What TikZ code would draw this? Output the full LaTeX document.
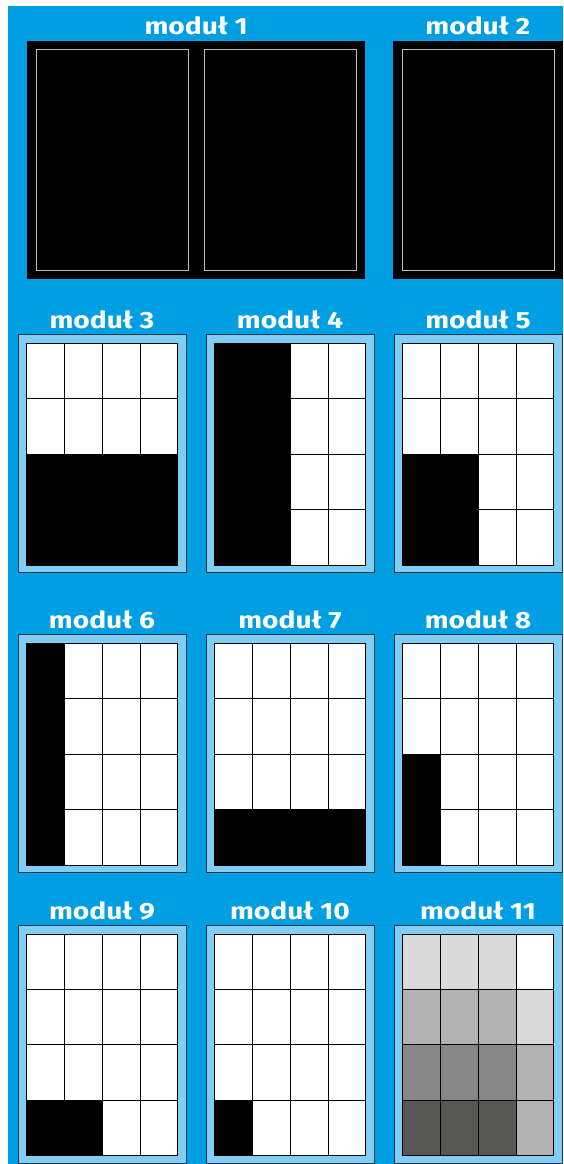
\documentclass[tikz,border=0pt]{standalone}
\usepackage{fontspec}
\setsansfont{Fira Sans}
\usepackage{xcolor}
\definecolor{modBlue}{HTML}{009FE3}
\definecolor{modLight}{HTML}{80CEF4}
\definecolor{modEdge}{HTML}{233746}
\definecolor{modGrayA}{HTML}{DADADA}
\definecolor{modGrayB}{HTML}{B2B2B2}
\definecolor{modGrayC}{HTML}{878787}
\definecolor{modGrayD}{HTML}{575756}
% wide title text
\newcommand{\modname}[1]{\scalebox{1.2}[1]{#1}}
% one module: frame at (#1,#2), title node #3 with text #4, fills #5 in cell units
\newcommand{\modbox}[5]{%
  \begin{scope}[shift={(#1,#2)}]
    \draw[modframe] (0,0) rectangle (168,238.4);
    \node[modtitle] (#3) at (84,-5.5) {\modname{#4}};
    \begin{scope}[shift={(8.7,9)}, x=37.75pt, y=-55.425pt]
      \fill[white] (0,0) rectangle (4,4);
      #5
      \foreach \i in {0,...,4} {\draw[modcell] (\i,0) -- (\i,4); \draw[modcell] (0,\i) -- (4,\i);}
    \end{scope}
  \end{scope}}

\begin{document}
\begin{tikzpicture}[x=1pt, y=-1pt,
  modtitle/.style={anchor=base, text=white, inner sep=0pt, font=\sffamily\bfseries\fontsize{23.5}{25}\selectfont},
  modframe/.style={draw=modEdge, fill=modLight, line width=0.9pt},
  modcell/.style={draw=black, line width=0.8pt, line cap=rect},
  modpage/.style={draw=black!25, line width=0.8pt}]
\useasboundingbox (0,0) rectangle (563,1164);
\fill[white] (0,0) rectangle (563,1164);
\fill[modBlue] (8,6) rectangle (563,1164);
% ---------- Row 1: black spreads ----------
\fill[black] (27.3,40.7) rectangle (365,279.3);
\draw[modpage] (36.5,49.3) rectangle ++(151.5,221.4);
\draw[modpage] (204.5,49.3) rectangle ++(151.5,221.4);
\node[modtitle] (m1) at (196.2,35) {\modname{moduł 1}};
\fill[black] (393.3,40.7) rectangle (563,279.3);
\draw[modpage] (402.8,49.3) rectangle ++(151.5,221.4);
\node[modtitle] (m2) at (477.8,35) {\modname{moduł 2}};
% ---------- Row 2 ----------
\modbox{18}{334.3}{m3}{moduł 3}{\fill (0,2) rectangle (4,4);}
\modbox{206}{334.3}{m4}{moduł 4}{\fill (0,0) rectangle (2,4);}
\modbox{394}{334.3}{m5}{moduł 5}{\fill (0,2) rectangle (2,4);}
% ---------- Row 3 ----------
\modbox{18}{634.3}{m6}{moduł 6}{\fill (0,0) rectangle (1,4);}
\modbox{206}{634.3}{m7}{moduł 7}{\fill (0,3) rectangle (4,4);}
\modbox{394}{634.3}{m8}{moduł 8}{\fill (0,2) rectangle (1,4);}
% ---------- Row 4 ----------
\modbox{18}{925}{m9}{moduł 9}{\fill (0,3) rectangle (2,4);}
\modbox{206}{925}{m10}{moduł 10}{\fill (0,3) rectangle (1,4);}
\modbox{394}{925}{m11}{moduł 11}{%
  \fill[modGrayA] (0,0) rectangle (3,1);
  \fill[modGrayB] (0,1) rectangle (3,2);
  \fill[modGrayA] (3,1) rectangle (4,2);
  \fill[modGrayC] (0,2) rectangle (3,3);
  \fill[modGrayB] (3,2) rectangle (4,4);
  \fill[modGrayD] (0,3) rectangle (3,4);}
\end{tikzpicture}
\end{document}
